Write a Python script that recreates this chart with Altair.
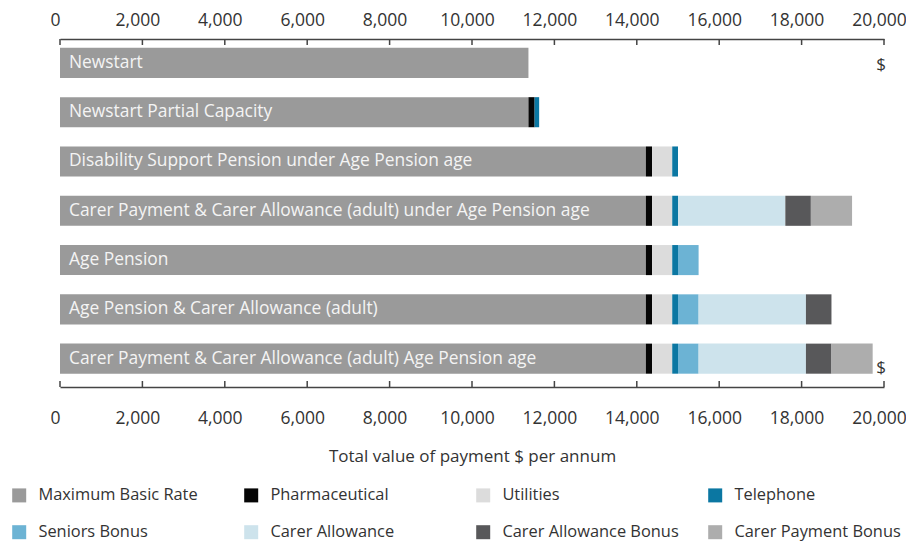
import altair as alt
import pandas as pd

categories = [
    "Newstart",
    "Newstart Partial Capacity",
    "Disability Support Pension under Age Pension age",
    "Carer Payment & Carer Allowance (adult) under Age Pension age",
    "Age Pension",
    "Age Pension & Carer Allowance (adult)",
    "Carer Payment & Carer Allowance (adult) Age Pension age",
]
components = [
    "Maximum Basic Rate", "Pharmaceutical", "Utilities", "Telephone",
    "Seniors Bonus", "Carer Allowance", "Carer Allowance Bonus", "Carer Payment Bonus",
]
colors = ["#9a9a9a", "#050505", "#dcdcdc", "#0b77a2",
          "#6cb3d4", "#cde3ec", "#58585a", "#adadad"]

basic       = [11370, 11370, 14220, 14220, 14220, 14220, 14220]
pharma      = [0, 150, 150, 150, 150, 150, 150]
utilities   = [0, 0, 490, 490, 490, 490, 490]
telephone   = [0, 110, 140, 140, 140, 140, 140]
seniors     = [0, 0, 0, 0, 500, 500, 500]
carer_allow = [0, 0, 0, 2605, 0, 2605, 2605]
ca_bonus    = [0, 0, 0, 620, 0, 620, 620]
cp_bonus    = [0, 0, 0, 1000, 0, 0, 1000]
tick_values = [0, 2000, 4000, 6000, 8000, 10000, 12000, 14000, 16000, 18000, 20000]

series = [basic, pharma, utilities, telephone, seniors, carer_allow, ca_bonus, cp_bonus]
rows = []
for ci, (comp, vals) in enumerate(zip(components, series)):
    for cat, v in zip(categories, vals):
        if v > 0:
            rows.append({"category": cat, "component": comp, "order": ci, "value": v})
df = pd.DataFrame(rows)
labels_df = pd.DataFrame({"category": categories, "x0": [0] * len(categories)})
ticks_df = pd.DataFrame({"t": tick_values})
dollar_top = pd.DataFrame({"category": [categories[0]], "v": [20000], "s": ["$"]})
dollar_bot = pd.DataFrame({"category": [categories[-1]], "v": [20000], "s": ["$"]})

FONT = "Open Sans"
TXT = "#333333"
AX = "#444444"
W, H = 824, 348

xscale = alt.Scale(domain=[0, 20000], nice=False, zero=True)
yscale = alt.Scale(domain=categories, paddingInner=0.39, paddingOuter=0.225, align=0.4)

bottom_axis = alt.Axis(orient="bottom", values=tick_values, format=",d", ticks=False,
                       grid=False, domainColor=AX, domainWidth=1.5, labelFlush=False,
                       labelFont=FONT, labelFontSize=17.5, labelColor=TXT, labelPadding=22.5,
                       labelOffset=-5,
                       title="Total value of payment $ per annum", titleFont=FONT,
                       titleFontSize=17, titleFontWeight="normal", titleColor=TXT,
                       titleBaseline="middle", titleY=69)
top_axis = alt.Axis(orient="top", values=tick_values, format=",d", ticks=False,
                    grid=False, domainColor=AX, domainWidth=1.5, labelFlush=False,
                    labelFont=FONT, labelFontSize=17.5, labelColor=TXT, labelPadding=10,
                    labelOffset=-5, title=None)
y_axis = alt.Axis(labels=False, ticks=False, domain=True, domainColor=AX,
                  domainWidth=1.5, title=None, grid=False)

bars = alt.Chart(df).mark_bar().encode(
    x=alt.X("value:Q", stack="zero", scale=xscale, axis=bottom_axis),
    y=alt.Y("category:N", scale=yscale, sort=categories, axis=y_axis),
    color=alt.Color("component:N", scale=alt.Scale(domain=components, range=colors),
                    legend=alt.Legend(title=None, orient="none", legendX=-49, legendY=448,
                                      direction="horizontal", columns=4,
                                      symbolType="square", symbolSize=196,
                                      symbolStrokeWidth=0, labelFont=FONT, labelFontSize=16.4,
                                      labelColor=TXT, labelLimit=400, columnPadding=28,
                                      rowPadding=20, gridAlign="all", labelOffset=11,
                                      padding=0)),
    order=alt.Order("order:Q"),
)

texts = alt.Chart(labels_df).mark_text(align="left", baseline="middle", dx=9,
                                       color="#f4f4f4", font=FONT, fontSize=17.4).encode(
    x=alt.X("x0:Q", scale=xscale, axis=None),
    y=alt.Y("category:N", scale=yscale, sort=categories, axis=None),
    text="category:N",
)

top_ticks = alt.Chart(ticks_df).mark_rule(color=AX, strokeWidth=1.5).encode(
    x=alt.X("t:Q", scale=xscale, axis=top_axis),
    y=alt.value(0), y2=alt.value(6),
)
bot_ticks = alt.Chart(ticks_df).mark_rule(color=AX, strokeWidth=1.5).encode(
    x=alt.X("t:Q", scale=xscale, axis=None),
    y=alt.value(H - 6), y2=alt.value(H),
)

d_top = alt.Chart(dollar_top).mark_text(align="center", baseline="middle", dx=-3, dy=2,
                                        color=TXT, font=FONT, fontSize=17).encode(
    x=alt.X("v:Q", scale=xscale, axis=None),
    y=alt.Y("category:N", scale=yscale, sort=categories, axis=None),
    text="s:N",
)
d_bot = alt.Chart(dollar_bot).mark_text(align="center", baseline="middle", dx=-3, dy=9,
                                        color=TXT, font=FONT, fontSize=17).encode(
    x=alt.X("v:Q", scale=xscale, axis=None),
    y=alt.Y("category:N", scale=yscale, sort=categories, axis=None),
    text="s:N",
)

chart = alt.layer(bars, texts, top_ticks, bot_ticks, d_top, d_bot).properties(
    width=W, height=H,
    autosize=alt.AutoSizeParams(type="none"),
    padding={"left": 52, "top": 31, "right": 22, "bottom": 156},
).configure_view(stroke=None)

chart.save("out.html", embed_options={"renderer": "svg", "actions": False})
